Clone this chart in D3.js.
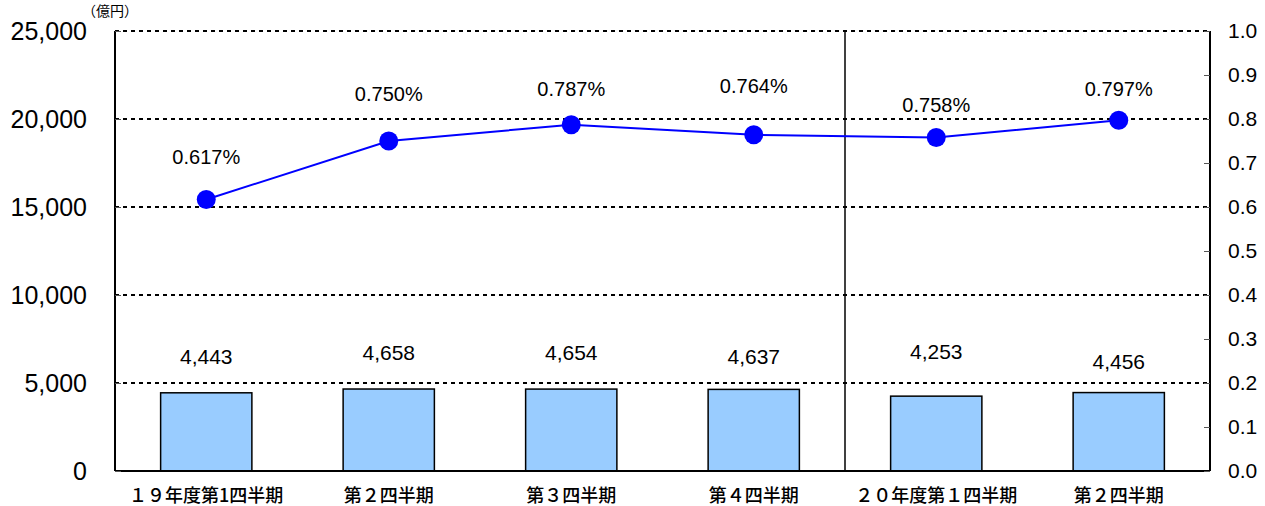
<!DOCTYPE html>
<html>
<head>
<meta charset="utf-8">
<script src="https://cdn.jsdelivr.net/npm/d3@7"></script>
<style>
  body { margin: 0; background: #fff; }
  svg { display: block; font-family: "Liberation Sans", Arial, sans-serif; }
</style>
</head>
<body>
<div id="chart"></div>
<script>
// Chart data
const categories = ["１９年度第1四半期", "第２四半期", "第３四半期", "第４四半期", "２０年度第１四半期", "第２四半期"];
const amounts = [4443, 4658, 4654, 4637, 4253, 4456];
const ratios = [0.617, 0.750, 0.787, 0.764, 0.758, 0.797];
const leftTicks = [0, 5000, 10000, 15000, 20000, 25000];
const rightTicks = [0, 0.1, 0.2, 0.3, 0.4, 0.5, 0.6, 0.7, 0.8, 0.9, 1.0];

// label nudges (layout only)
const ratioLabelDy = [-36, -40, -29, -42, -25, -24];
const amountLabelY = [364, 360, 360, 364, 359, 369];

const width = 1265, height = 506;
const m = { left: 115, right: 55, top: 31, bottom: 35 };

const svg = d3.select("#chart").append("svg")
  .attr("width", width)
  .attr("height", height);

const x = d3.scaleBand()
  .domain(categories.map((d, i) => i))
  .range([m.left, width - m.right])
  .paddingInner(0.5)
  .paddingOuter(0.25);

const yL = d3.scaleLinear().domain([0, 25000]).range([height - m.bottom, m.top]);
const yR = d3.scaleLinear().domain([0, 1]).range([height - m.bottom, m.top]);

const x0 = m.left, x1 = width - m.right;

// dotted gridlines
svg.append("g").selectAll("line")
  .data(leftTicks.filter(d => d > 0))
  .enter().append("line")
  .attr("x1", x0).attr("x2", x1)
  .attr("y1", d => yL(d)).attr("y2", d => yL(d))
  .attr("stroke", "#000")
  .attr("stroke-width", 2)
  .attr("stroke-dasharray", "4,4");

// bars
svg.append("g").selectAll("rect")
  .data(amounts)
  .enter().append("rect")
  .attr("x", (d, i) => x(i))
  .attr("y", d => yL(d))
  .attr("width", x.bandwidth())
  .attr("height", d => yL(0) - yL(d))
  .attr("fill", "#99ccff")
  .attr("stroke", "#000")
  .attr("stroke-width", 1.5);

// bar labels
svg.append("g").selectAll("text")
  .data(amounts)
  .enter().append("text")
  .attr("x", (d, i) => x(i) + x.bandwidth() / 2)
  .attr("y", (d, i) => amountLabelY[i])
  .attr("text-anchor", "middle")
  .style("font-size", "21px")
  .text(d => d3.format(",")(d));

// frame: left, right, bottom solid
const frame = svg.append("g").attr("stroke", "#000").attr("stroke-width", 2);
frame.append("line").attr("x1", x0).attr("x2", x0).attr("y1", m.top).attr("y2", height - m.bottom);
frame.append("line").attr("x1", x1).attr("x2", x1).attr("y1", m.top).attr("y2", height - m.bottom);
frame.append("line").attr("x1", x0).attr("x2", x1).attr("y1", yL(0)).attr("y2", yL(0));

// divider between fiscal years
const divX = (x(3) + x.bandwidth() + x(4)) / 2;
svg.append("line")
  .attr("x1", divX).attr("x2", divX)
  .attr("y1", m.top).attr("y2", height - m.bottom)
  .attr("stroke", "#000").attr("stroke-width", 1.5);

// left axis
const leftAxis = svg.append("g")
  .attr("transform", `translate(${x0},0)`)
  .call(d3.axisLeft(yL).tickValues(leftTicks).tickSize(-6).tickPadding(28).tickFormat(d3.format(",")));
leftAxis.select(".domain").remove();
leftAxis.selectAll("text").style("font-size", "25px").attr("fill", "#000");
leftAxis.selectAll("line").attr("stroke", "#555");

// right axis
const rightAxis = svg.append("g")
  .attr("transform", `translate(${x1},0)`)
  .call(d3.axisRight(yR).tickValues(rightTicks).tickSize(-6).tickPadding(18).tickFormat(d3.format(".1f")));
rightAxis.select(".domain").remove();
rightAxis.selectAll("text").style("font-size", "21px").attr("fill", "#000");
rightAxis.selectAll("line").attr("stroke", "#555");

// unit label
svg.append("text")
  .attr("x", 82).attr("y", 16)
  .style("font-family", "'Noto Sans CJK JP', sans-serif")
  .style("font-size", "14px")
  .text("（億円）");

// category labels
svg.append("g").selectAll("text")
  .data(categories)
  .enter().append("text")
  .attr("x", (d, i) => x(i) + x.bandwidth() / 2)
  .attr("y", height - 4)
  .attr("text-anchor", "middle")
  .style("font-family", "'Noto Sans CJK JP', sans-serif")
  .style("font-size", "18px")
  .style("font-weight", 500)
  .text(d => d);

// ratio line
const line = d3.line()
  .x((d, i) => x(i) + x.bandwidth() / 2)
  .y(d => yR(d));

svg.append("path")
  .datum(ratios)
  .attr("d", line)
  .attr("fill", "none")
  .attr("stroke", "#0000ff")
  .attr("stroke-width", 2);

svg.append("g").selectAll("circle")
  .data(ratios)
  .enter().append("circle")
  .attr("cx", (d, i) => x(i) + x.bandwidth() / 2)
  .attr("cy", d => yR(d))
  .attr("r", 9.5)
  .attr("fill", "#0000ff");

// ratio labels
svg.append("g").selectAll("text")
  .data(ratios)
  .enter().append("text")
  .attr("x", (d, i) => x(i) + x.bandwidth() / 2)
  .attr("y", (d, i) => yR(d) + ratioLabelDy[i])
  .attr("text-anchor", "middle")
  .style("font-size", "20px")
  .text(d => d3.format(".3f")(d) + "%");
</script>
</body>
</html>
